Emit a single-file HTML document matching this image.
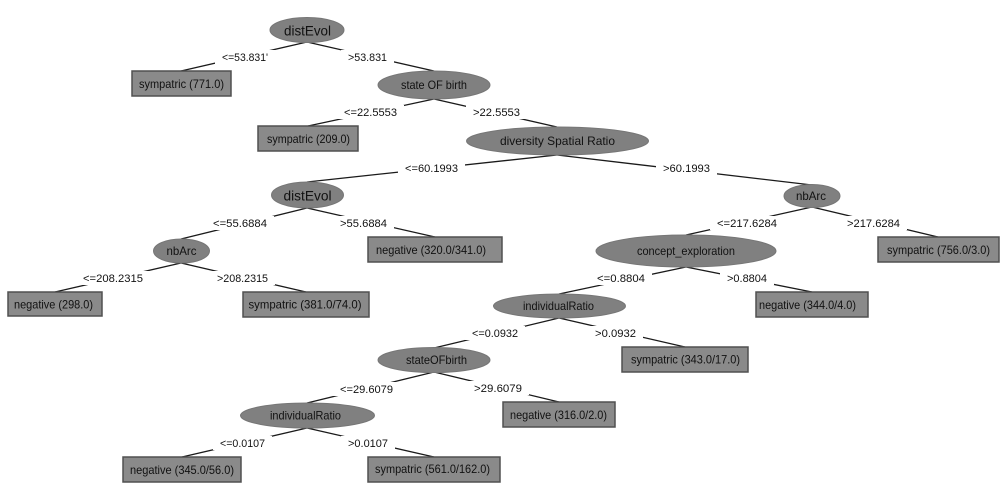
<!DOCTYPE html>
<html><head><meta charset="utf-8"><style>
html,body{margin:0;padding:0;background:#fff;width:1000px;height:496px;overflow:hidden}
svg{display:block}
text{font-family:"Liberation Sans",Arial,sans-serif;fill:#111}
.e{stroke:#1a1a1a;stroke-width:1.3;fill:none}
.n{fill:#808080;stroke:#767676;stroke-width:1}
.l{fill:#8a8a8a;stroke:#505050;stroke-width:1.5}
.lb{fill:#fff}
</style></head><body>
<svg width="1000" height="496" viewBox="0 0 1000 496" xmlns="http://www.w3.org/2000/svg">
<rect width="1000" height="496" fill="#fff"/>
<!-- edges -->
<g class="e">
<line x1="307" y1="42" x2="181" y2="71"/>
<line x1="307" y1="42" x2="434" y2="71"/>
<line x1="434" y1="99" x2="308" y2="126"/>
<line x1="434" y1="99" x2="557" y2="127"/>
<line x1="557" y1="155" x2="307" y2="182"/>
<line x1="557" y1="155" x2="812" y2="185"/>
<line x1="307" y1="208" x2="181" y2="239"/>
<line x1="307" y1="208" x2="435" y2="237"/>
<line x1="812" y1="207" x2="686" y2="235"/>
<line x1="812" y1="207" x2="938" y2="237"/>
<line x1="181" y1="263" x2="55" y2="292"/>
<line x1="181" y1="263" x2="306" y2="292"/>
<line x1="686" y1="267" x2="559" y2="294"/>
<line x1="686" y1="267" x2="812" y2="292"/>
<line x1="559" y1="318" x2="434" y2="348"/>
<line x1="559" y1="318" x2="685" y2="347"/>
<line x1="434" y1="372" x2="307" y2="403"/>
<line x1="434" y1="372" x2="559" y2="402"/>
<line x1="307" y1="428" x2="182" y2="457"/>
<line x1="307" y1="428" x2="434" y2="457"/>
</g>
<!-- edge label boxes -->
<g class="lb">
<rect x="215" y="50" width="60" height="14"/>
<rect x="341" y="50" width="53" height="14"/>
<rect x="337" y="105" width="67" height="14"/>
<rect x="466" y="105" width="61" height="14"/>
<rect x="398" y="161" width="67" height="14"/>
<rect x="656" y="161" width="61" height="14"/>
<rect x="206" y="216" width="68" height="14"/>
<rect x="333" y="216" width="61" height="14"/>
<rect x="710" y="216" width="74" height="14"/>
<rect x="840" y="216" width="67" height="14"/>
<rect x="76" y="271" width="74" height="14"/>
<rect x="210" y="271" width="65" height="14"/>
<rect x="590" y="271" width="62" height="14"/>
<rect x="720" y="271" width="54" height="14"/>
<rect x="465" y="326" width="60" height="14"/>
<rect x="588" y="326" width="55" height="14"/>
<rect x="333" y="382" width="67" height="14"/>
<rect x="467" y="381" width="62" height="14"/>
<rect x="213" y="436" width="59" height="14"/>
<rect x="341" y="436" width="54" height="14"/>
</g>
<!-- edge labels -->
<g font-size="11" text-anchor="middle">
<text x="245" y="61" textLength="46" lengthAdjust="spacingAndGlyphs">&lt;=53.831'</text>
<text x="367.5" y="61" textLength="39" lengthAdjust="spacingAndGlyphs">&gt;53.831</text>
<text x="370.5" y="116" textLength="53" lengthAdjust="spacingAndGlyphs">&lt;=22.5553</text>
<text x="496.5" y="116" textLength="47" lengthAdjust="spacingAndGlyphs">&gt;22.5553</text>
<text x="431.5" y="172" textLength="53" lengthAdjust="spacingAndGlyphs">&lt;=60.1993</text>
<text x="686.5" y="172" textLength="47" lengthAdjust="spacingAndGlyphs">&gt;60.1993</text>
<text x="240" y="227" textLength="54" lengthAdjust="spacingAndGlyphs">&lt;=55.6884</text>
<text x="363.5" y="227" textLength="47" lengthAdjust="spacingAndGlyphs">&gt;55.6884</text>
<text x="747" y="227" textLength="60" lengthAdjust="spacingAndGlyphs">&lt;=217.6284</text>
<text x="873.5" y="227" textLength="53" lengthAdjust="spacingAndGlyphs">&gt;217.6284</text>
<text x="113" y="282" textLength="60" lengthAdjust="spacingAndGlyphs">&lt;=208.2315</text>
<text x="242.5" y="282" textLength="51" lengthAdjust="spacingAndGlyphs">&gt;208.2315</text>
<text x="621" y="282" textLength="48" lengthAdjust="spacingAndGlyphs">&lt;=0.8804</text>
<text x="747" y="282" textLength="40" lengthAdjust="spacingAndGlyphs">&gt;0.8804</text>
<text x="495" y="337" textLength="46" lengthAdjust="spacingAndGlyphs">&lt;=0.0932</text>
<text x="615.5" y="337" textLength="41" lengthAdjust="spacingAndGlyphs">&gt;0.0932</text>
<text x="366.5" y="393" textLength="53" lengthAdjust="spacingAndGlyphs">&lt;=29.6079</text>
<text x="498" y="392" textLength="48" lengthAdjust="spacingAndGlyphs">&gt;29.6079</text>
<text x="242.5" y="447" textLength="45" lengthAdjust="spacingAndGlyphs">&lt;=0.0107</text>
<text x="368" y="447" textLength="40" lengthAdjust="spacingAndGlyphs">&gt;0.0107</text>
</g>
<!-- internal nodes -->
<g class="n">
<ellipse cx="307" cy="30" rx="37" ry="12.5"/>
<ellipse cx="434" cy="85" rx="56" ry="14"/>
<ellipse cx="557.5" cy="141" rx="91" ry="14"/>
<ellipse cx="307.5" cy="195" rx="36" ry="13"/>
<ellipse cx="812" cy="196" rx="28" ry="11.5"/>
<ellipse cx="181.5" cy="251" rx="28" ry="12"/>
<ellipse cx="686" cy="251" rx="90" ry="16"/>
<ellipse cx="559.5" cy="306" rx="66" ry="12"/>
<ellipse cx="434" cy="360" rx="56" ry="12.5"/>
<ellipse cx="307.5" cy="415.5" rx="67" ry="12.5"/>
</g>
<g text-anchor="middle">
<text x="307.5" y="35.5" font-size="14" textLength="47" lengthAdjust="spacingAndGlyphs">distEvol</text>
<text x="434" y="89" font-size="12" textLength="66" lengthAdjust="spacingAndGlyphs">state OF birth</text>
<text x="557.5" y="145" font-size="12" textLength="115" lengthAdjust="spacingAndGlyphs">diversity Spatial Ratio</text>
<text x="307.5" y="200.5" font-size="14" textLength="48" lengthAdjust="spacingAndGlyphs">distEvol</text>
<text x="811" y="200" font-size="12" textLength="30" lengthAdjust="spacingAndGlyphs">nbArc</text>
<text x="181.5" y="255" font-size="12" textLength="30" lengthAdjust="spacingAndGlyphs">nbArc</text>
<text x="686" y="255" font-size="12" textLength="98" lengthAdjust="spacingAndGlyphs">concept_exploration</text>
<text x="558.5" y="310" font-size="12" textLength="71" lengthAdjust="spacingAndGlyphs">individualRatio</text>
<text x="436.5" y="364" font-size="12" textLength="61" lengthAdjust="spacingAndGlyphs">stateOFbirth</text>
<text x="305.5" y="419.5" font-size="12" textLength="71" lengthAdjust="spacingAndGlyphs">individualRatio</text>
</g>
<!-- leaves -->
<g class="l">
<rect x="132" y="71" width="99" height="25"/>
<rect x="258" y="126" width="100" height="25"/>
<rect x="368" y="237" width="134" height="25"/>
<rect x="8" y="292" width="94" height="24"/>
<rect x="243" y="292" width="126" height="25"/>
<rect x="878" y="237" width="121" height="25"/>
<rect x="756" y="292" width="112" height="25"/>
<rect x="622" y="347" width="126" height="25"/>
<rect x="503" y="402" width="112" height="25"/>
<rect x="123" y="457" width="118" height="25"/>
<rect x="368" y="457" width="132" height="25"/>
</g>
<g font-size="12" text-anchor="middle">
<text x="181.5" y="88" textLength="85" lengthAdjust="spacingAndGlyphs">sympatric (771.0)</text>
<text x="308.5" y="143" textLength="83" lengthAdjust="spacingAndGlyphs">sympatric (209.0)</text>
<text x="431" y="254" textLength="110" lengthAdjust="spacingAndGlyphs">negative (320.0/341.0)</text>
<text x="53.5" y="308.5" textLength="79" lengthAdjust="spacingAndGlyphs">negative (298.0)</text>
<text x="305" y="308.5" textLength="113" lengthAdjust="spacingAndGlyphs">sympatric (381.0/74.0)</text>
<text x="938.5" y="254" textLength="103" lengthAdjust="spacingAndGlyphs">sympatric (756.0/3.0)</text>
<text x="807.5" y="309" textLength="97" lengthAdjust="spacingAndGlyphs">negative (344.0/4.0)</text>
<text x="685.5" y="363.5" textLength="109" lengthAdjust="spacingAndGlyphs">sympatric (343.0/17.0)</text>
<text x="558.5" y="419" textLength="97" lengthAdjust="spacingAndGlyphs">negative (316.0/2.0)</text>
<text x="182" y="474" textLength="104" lengthAdjust="spacingAndGlyphs">negative (345.0/56.0)</text>
<text x="432.5" y="473" textLength="115" lengthAdjust="spacingAndGlyphs">sympatric (561.0/162.0)</text>
</g>
</svg>
</body></html>
